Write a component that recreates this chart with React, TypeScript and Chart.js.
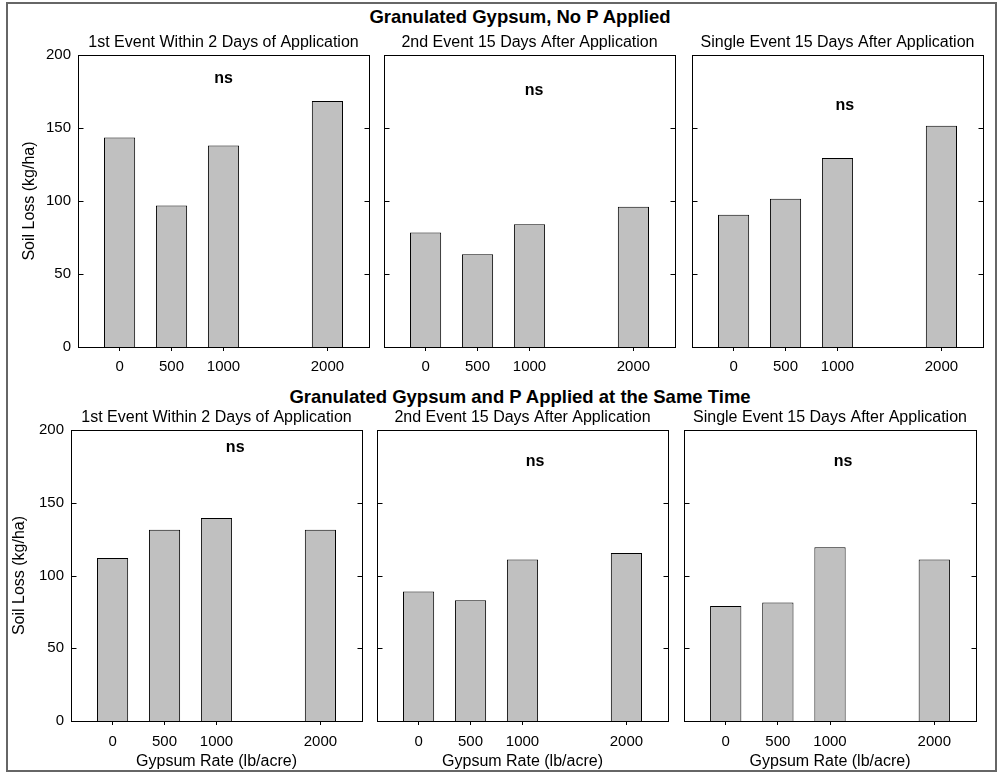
import React, { useEffect, useRef } from 'react';
import { Chart, registerables } from 'chart.js';

Chart.register(...registerables);

const FONT = "'Liberation Sans', Arial, Helvetica, sans-serif";

// ---- data ----
const gypsumRates = [0, 500, 1000, 2000];
const xTickValues = [0, 500, 1000, 2000];
const yTickValues = [0, 50, 100, 150, 200];
const innerTickValues = [50, 100, 150];

const noPFirstEvent = [143.5, 97, 138, 168.5];
const noPSecondEvent = [78.5, 63.5, 84, 96];
const noPSingleEvent = [90.5, 101.5, 129.5, 151.5];
const withPFirstEvent = [112, 131.5, 139.5, 131.5];
const withPSecondEvent = [89, 83, 111, 115.5];
const withPSingleEvent = [79, 81.5, 119.5, 111];

const panelTitles = [
  '1st Event Within 2 Days of Application',
  '2nd Event 15 Days After Application',
  'Single Event 15 Days After Application',
];
const rowTitles = ['Granulated Gypsum, No P Applied', 'Granulated Gypsum and P Applied at the Same Time'];
const yAxisTitle = 'Soil Loss (kg/ha)';
const xAxisTitle = 'Gypsum Rate (lb/acre)';
const significanceLabel = 'ns';
// "ns" anchors in data units: [gypsum rate, soil loss]
const noPNsAnchors = [[1000, 183.5], [1045, 175.5], [1070, 165.5]];
const withPNsAnchors = [[1180, 188], [1120, 178.5], [1125, 178.5]];

// ---- layout (pixels) ----
const rowLayouts = [
  { top: 55, bottom: 347, lefts: [78, 384, 692], rights: [369, 675, 983], titleCenter: 17, xTitle: false, yTitlePad: 12, xLabelPad: 7 },
  { top: 430, bottom: 721, lefts: [71, 377, 684], rights: [362, 668, 976], titleCenter: 397, xTitle: true, yTitlePad: 9, xLabelPad: 8 },
];

const framePlugin = {
  id: 'panelFrame',
  afterDraw(chart: any, _args: any, opts: any) {
    const { ctx, chartArea, scales } = chart;
    const L = Math.round(chartArea.left) + 0.5;
    const R = Math.round(chartArea.right) + 0.5;
    const T = Math.round(chartArea.top) + 0.5;
    const B = Math.round(chartArea.bottom) + 0.5;
    ctx.save();
    ctx.strokeStyle = '#000';
    ctx.lineWidth = 1;
    ctx.strokeRect(L, T, R - L, B - T);
    ctx.beginPath();
    innerTickValues.forEach((v) => {
      const py = Math.round(scales.y.getPixelForValue(v)) + 0.5;
      ctx.moveTo(L, py);
      ctx.lineTo(L + 5, py);
      ctx.moveTo(R - 5, py);
      ctx.lineTo(R, py);
    });
    ctx.stroke();
    ctx.fillStyle = '#000';
    ctx.font = `bold 16px ${FONT}`;
    ctx.textAlign = 'center';
    ctx.textBaseline = 'middle';
    ctx.fillText(significanceLabel, scales.x.getPixelForValue(opts.nsX), scales.y.getPixelForValue(opts.nsY));
    ctx.restore();
  },
};

type PanelProps = {
  area: { l: number; r: number; t: number; b: number };
  values: number[];
  title: string;
  ns: number[];
  showY: boolean;
  showXTitle: boolean;
  yTitlePad: number;
  xLabelPad: number;
};

function Panel({ area, values, title, ns, showY, showXTitle, yTitlePad, xLabelPad }: PanelProps) {
  const ref = useRef<HTMLCanvasElement>(null);
  const YW = showY ? 70 : 10;
  const RP = 6;
  const TH = 25;
  const XH = showXTitle ? 50 : 35;
  const width = area.r - area.l + YW + RP;
  const height = area.b - area.t + TH + XH;

  useEffect(() => {
    if (!ref.current) return;
    const chart = new Chart(ref.current, {
      type: 'bar',
      data: {
        datasets: [
          {
            data: gypsumRates.map((x, i) => ({ x, y: values[i] })),
            backgroundColor: '#c0c0c0',
            borderColor: '#000',
            borderWidth: 1,
            barPercentage: 0.6,
            categoryPercentage: 1,
          },
        ],
      },
      options: {
        responsive: false,
        animation: false,
        devicePixelRatio: 1,
        layout: { padding: { top: 0, left: 0, right: RP, bottom: 0 } },
        plugins: {
          legend: { display: false },
          tooltip: { enabled: false },
          title: {
            display: true,
            text: title,
            fullSize: false,
            color: '#000',
            font: { family: FONT, size: 16, weight: 'normal', lineHeight: '19px' },
            padding: { top: 3, bottom: 3 },
          },
          panelFrame: { nsX: ns[0], nsY: ns[1] },
        },
        scales: {
          x: {
            type: 'linear',
            min: -400,
            max: 2400,
            offset: false,
            afterBuildTicks: (s: any) => {
              s.ticks = xTickValues.map((v) => ({ value: v }));
            },
            afterFit: (s: any) => {
              s.height = XH;
            },
            grid: {
              display: true,
              offset: false,
              drawOnChartArea: false,
              drawTicks: true,
              tickLength: 4,
              color: '#000',
              lineWidth: 1,
            },
            border: { display: false },
            ticks: {
              color: '#000',
              font: { family: FONT, size: 15 },
              padding: xLabelPad,
              maxRotation: 0,
              autoSkip: false,
              callback: (v: any) => String(v),
            },
            title: {
              display: showXTitle,
              text: xAxisTitle,
              color: '#000',
              font: { family: FONT, size: 16 },
              padding: { top: 0, bottom: 0 },
            },
          },
          y: {
            type: 'linear',
            min: 0,
            max: 200,
            afterBuildTicks: (s: any) => {
              s.ticks = yTickValues.map((v) => ({ value: v }));
            },
            afterFit: (s: any) => {
              s.width = YW;
            },
            grid: { display: false, drawTicks: false },
            border: { display: false },
            ticks: {
              display: showY,
              color: '#000',
              font: { family: FONT, size: 15 },
              padding: 7,
              callback: (v: any) => String(v),
            },
            title: {
              display: showY,
              text: yAxisTitle,
              color: '#000',
              font: { family: FONT, size: 16 },
              padding: { top: yTitlePad, bottom: 0 },
            },
          },
        },
      } as any,
      plugins: [framePlugin as any],
    });
    return () => chart.destroy();
  }, []);

  return (
    <canvas
      ref={ref}
      width={width}
      height={height}
      style={{ position: 'absolute', left: area.l - YW, top: area.t - TH, width, height, display: 'block' }}
    />
  );
}

export default function App() {
  const rowsData = [
    { values: [noPFirstEvent, noPSecondEvent, noPSingleEvent], ns: noPNsAnchors },
    { values: [withPFirstEvent, withPSecondEvent, withPSingleEvent], ns: withPNsAnchors },
  ];
  return (
    <div style={{ position: 'absolute', left: 0, top: 0, width: 1000, height: 773, background: '#fff', overflow: 'hidden' }}>
      <div
        style={{
          position: 'absolute',
          left: 6,
          top: 2,
          width: 991,
          height: 770,
          border: '2px solid #666',
          boxSizing: 'border-box',
        }}
      />
      {rowLayouts.map((row, ri) => (
        <React.Fragment key={ri}>
          <div
            style={{
              position: 'absolute',
              left: 20,
              width: 1000,
              top: row.titleCenter - 11,
              lineHeight: '22px',
              textAlign: 'center',
              fontFamily: FONT,
              fontWeight: 'bold',
              fontSize: '18.5px',
              color: '#000',
            }}
          >
            {rowTitles[ri]}
          </div>
          {[0, 1, 2].map((ci) => (
            <Panel
              key={ci}
              area={{ l: row.lefts[ci], r: row.rights[ci], t: row.top, b: row.bottom }}
              values={rowsData[ri].values[ci]}
              title={panelTitles[ci]}
              ns={rowsData[ri].ns[ci]}
              showY={ci === 0}
              showXTitle={row.xTitle}
              yTitlePad={row.yTitlePad}
              xLabelPad={row.xLabelPad}
            />
          ))}
        </React.Fragment>
      ))}
    </div>
  );
}
